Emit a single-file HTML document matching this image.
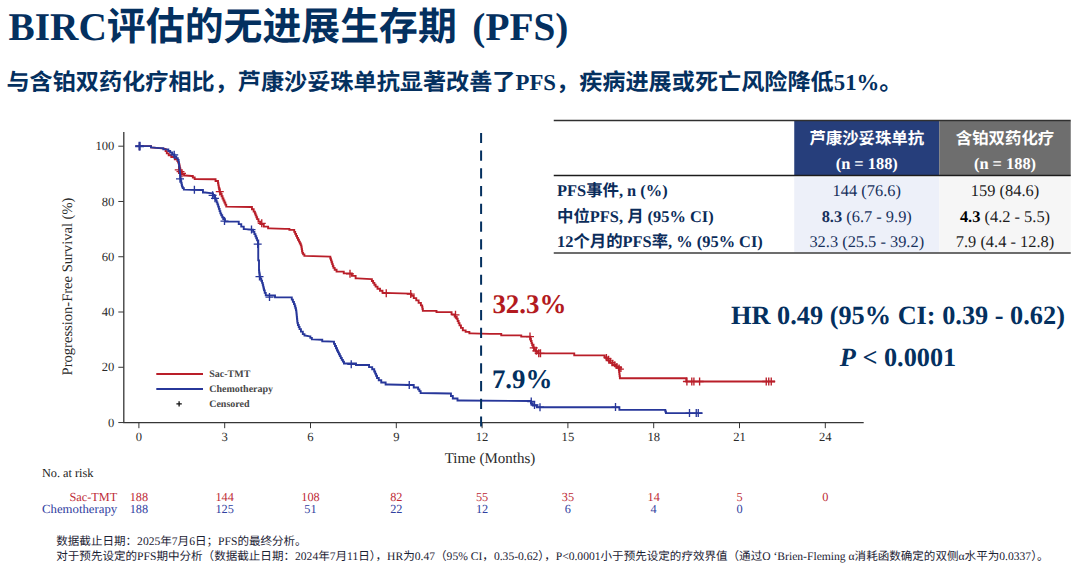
<!DOCTYPE html>
<html lang="zh"><head><meta charset="utf-8"><title>BIRC PFS</title><style>
html,body{margin:0;padding:0;background:#fff}
body{width:1080px;height:567px;position:relative;overflow:hidden;text-rendering:geometricPrecision;font-family:"Liberation Serif",serif;color:#04305f}
.abs{position:absolute;white-space:nowrap;margin:0}
span.cjk{font-family:"Liberation Serif","Noto Sans CJK SC",sans-serif}
.title{font-size:39.3px;font-weight:bold;line-height:46px;color:#04305f}
.sub{font-size:22.8px;font-weight:bold;line-height:30px;color:#04305f}
.th{font-size:16.4px;font-weight:bold;color:#fff;text-align:center;line-height:22px}
.th2{font-size:16.4px;font-weight:bold;color:#fff;text-align:center;line-height:20px}
.rl{font-size:16.4px;font-weight:bold;color:#0b2c5a;line-height:18px}
.rv{font-size:16.4px;text-align:center;line-height:18px}
.big{font-size:26.9px;font-weight:bold;line-height:30px}
.hr{font-size:26.3px;font-weight:bold;line-height:30px;text-align:center;color:#04305f}
.fn{font-size:11.6px;line-height:14px;color:#1b2233}
.fn span.cjk{font-size:11.55px}
text{font-family:"Liberation Serif",serif;text-rendering:geometricPrecision}
.t12{font-size:12.6px;fill:#2a2a2a}
.t14{font-size:15px;fill:#2a2a2a}
.lg{font-size:10px;font-weight:bold;fill:#474747}
</style></head><body>
<svg class="abs" style="left:0;top:0" width="1080" height="567" viewBox="0 0 1080 567"><rect x="794.25" y="121" width="145" height="54.5" fill="#263e7b"/><rect x="939.25" y="121" width="131.5" height="54.5" fill="#6e6e6e"/><rect x="794.25" y="177.2" width="145" height="75.3" fill="#edf0f9"/><rect x="939.25" y="177.2" width="131.5" height="75.3" fill="#f6f6f6"/><path d="M553.75 120.6H1070.75" stroke="#303030" stroke-width="1.5"/><path d="M553.75 175.5H1070.75" stroke="#1c1c1c" stroke-width="1.4"/><path d="M553.75 252.9H1070.75" stroke="#3c3c3c" stroke-width="1.5"/><path d="M123.8 132V422.55H863.7" fill="none" stroke="#363636" stroke-width="1.3"/><path d="M118.3 422.55H123.8M118.3 367.28H123.8M118.3 312.01H123.8M118.3 256.74H123.8M118.3 201.47H123.8M118.3 146.2H123.8M138.9 422.55V428.2M224.7 422.55V428.2M310.5 422.55V428.2M396.3 422.55V428.2M482.1 422.55V428.2M567.9 422.55V428.2M653.7 422.55V428.2M739.5 422.55V428.2M825.3 422.55V428.2" fill="none" stroke="#363636" stroke-width="1"/><text x="114.3" y="426.65" text-anchor="end" class="t12">0</text><text x="114.3" y="371.38" text-anchor="end" class="t12">20</text><text x="114.3" y="316.11" text-anchor="end" class="t12">40</text><text x="114.3" y="260.84" text-anchor="end" class="t12">60</text><text x="114.3" y="205.57" text-anchor="end" class="t12">80</text><text x="114.3" y="150.3" text-anchor="end" class="t12">100</text><text x="138.9" y="441.2" text-anchor="middle" class="t12">0</text><text x="224.7" y="441.2" text-anchor="middle" class="t12">3</text><text x="310.5" y="441.2" text-anchor="middle" class="t12">6</text><text x="396.3" y="441.2" text-anchor="middle" class="t12">9</text><text x="482.1" y="441.2" text-anchor="middle" class="t12">12</text><text x="567.9" y="441.2" text-anchor="middle" class="t12">15</text><text x="653.7" y="441.2" text-anchor="middle" class="t12">18</text><text x="739.5" y="441.2" text-anchor="middle" class="t12">21</text><text x="825.3" y="441.2" text-anchor="middle" class="t12">24</text><text x="490" y="462.5" text-anchor="middle" class="t14">Time (Months)</text><text transform="translate(72.3 286.5) rotate(-90)" text-anchor="middle" class="t14" style="font-size:14.56px">Progression-Free Survival (%)</text><path d="M139.5 146.15L151 146.15L151 147.35L159.3 148.15L165 148.85H165.60V151.10H166.20H166.80V153.35H167.40H168.70V155.20H170.00H171.30V157.05H172.60H174.80V159.25H177.00H177.38V160.95H177.77H178.15V162.65H178.53H178.92V164.35H179.30H179.48V166.40H179.65H179.82V168.45H180.00H180.18V170.50H180.35H180.52V172.55H180.70H181.82V174.05H182.95H184.07V175.55H185.20L191.9 175.95H192.82V177.45H193.75H194.68V178.95H195.60L213.3 179.25H215.55V181.05H217.80H217.99V183.20H218.18H218.36V185.35H218.55H218.74V187.50H218.93H219.11V189.65H219.30H219.76V191.85H220.23H220.69V194.05H221.15H221.61V196.25H222.07H222.54V198.45H223.00H223.46V200.50H223.93H224.39V202.55H224.85H225.31V204.60H225.77H226.24V206.65H226.70L251.1 206.95H251.95V209.27H252.80H253.65V211.60H254.50H254.88V213.47H255.25H255.62V215.35H256.00H256.38V217.22H256.75H257.12V219.10H257.50H258.44V221.60H259.38H260.31V224.10H261.25H263.75V226.60H266.25H268.12V228.35H270.00L285 228.85H289.38V229.85H293.75H294.22V231.85H294.69H295.16V233.85H295.62H296.09V235.85H296.56H297.03V237.85H297.50H297.97V239.72H298.44H298.91V241.60H299.38H299.84V243.47H300.31H300.78V245.35H301.25H301.41V247.22H301.56H301.72V249.10H301.88H302.03V250.97H302.19H302.34V252.85H302.50H303.12V254.35H303.75H304.38V255.85H305.00L330 256.6H330.31V258.48H330.62H330.94V260.35H331.25H331.56V262.23H331.88H332.19V264.10H332.50H332.81V265.98H333.12H333.44V267.85H333.75H334.69V269.73H335.62H336.56V271.60H337.50H343.75V273.35H350.00H351.88V275.85H353.75H355.62V278.35H357.50L371.25 279.1H371.88V280.98H372.50H373.12V282.85H373.75H374.38V284.73H375.00H375.62V286.60H376.25H377.50V288.68H378.75H380.00V290.77H381.25H382.50V292.85H383.75L410 293.6H411.25V295.85H412.50H413.75V298.10H415.00H416.25V300.35H417.50H418.62V302.85H419.75H420.88V305.35H422.00H422.17V307.18H422.33H422.50V309.02H422.67H422.83V310.85H423.00H436.50V312.10H450.00H451.56V314.35H453.12H454.69V316.60H456.25H456.72V318.79H457.19H457.66V320.98H458.12H458.59V323.16H459.06H459.53V325.35H460.00H460.94V327.85H461.88H462.81V330.35H463.75H465.62V331.85H467.50H469.38V333.35H471.25L490 333.85H501.25V335.35H512.50H521.25V336.60H530.00H530.31V338.79H530.62H530.94V340.98H531.25H531.56V343.16H531.88H532.19V345.35H532.50H533.12V347.43H533.75H534.38V349.52H535.00H535.62V351.60H536.25H538.12V353.35H540.00L573.75 353.35H574.25V355.35L603.75 355.35H604.69V357.85H605.62H606.56V360.35H607.50H609.06V362.85H610.62H612.19V365.35H613.75H616.25V367.85H618.75H618.88V369.93H619.00H619.12V372.01H619.25H619.38V374.09H619.50H619.62V376.17H619.75H619.88V378.25H620.00L686.25 378.25L686.25 381.45L775 381.45" fill="none" stroke="#b91e29" stroke-width="1.9" stroke-linejoin="miter"/><path d="M135.5 146.15h8M139.5 142.15v8M174.75 169.85h8M178.75 165.85v8M176.5 171.6h8M180.5 167.6v8M178 173.35h8M182 169.35v8M215.8 191.6h8M219.8 187.6v8M257.75 223.35h8M261.75 219.35v8M346 273.85h8M350 269.85v8M382.25 293.35h8M386.25 289.35v8M406.75 294.1h8M410.75 290.1v8M451.5 314.85h8M455.5 310.85v8M526 336.6h8M530 332.6v8M529.75 347.85h8M533.75 343.85v8M532.25 350.85h8M536.25 346.85v8M534.75 353.35h8M538.75 349.35v8M536.5 353.35h8M540.5 349.35v8M682.9 381.45h8M686.9 377.45v8M687.8 381.45h8M691.8 377.45v8M689.9 381.45h8M693.9 377.45v8M695.6 381.45h8M699.6 377.45v8M762.25 381.45h8M766.25 377.45v8M764.75 381.45h8M768.75 377.45v8M767.25 381.45h8M771.25 377.45v8M603.4 357.05h6M606.4 354.05v6M605.5 358.75h6M608.5 355.75v6M607.6 360.85h6M610.6 357.85v6M609.7 362.65h6M612.7 359.65v6M611.8 364.35h6M614.8 361.35v6M613.9 366.05h6M616.9 363.05v6M616.1 367.45h6M619.1 364.45v6M617.9 369.05h6M620.9 366.05v6" fill="none" stroke="#b91e29" stroke-width="1.35"/><path d="M139.5 146.15L151 146.15L151 147.35L159.3 148.15H163.35V149.35H167.40H168.32V150.95H169.25H170.18V152.55H171.10H172.20V154.45H173.30H174.40V156.35H175.50H176.25V158.15H177.00H177.75V159.95H178.50H178.62V162.03H178.74H178.86V164.11H178.98H179.10V166.19H179.22H179.34V168.27H179.46H179.58V170.35H179.70H179.82V172.57H179.95H180.07V174.80H180.20H180.32V177.03H180.45H180.57V179.25H180.70H180.89V181.10H181.07H181.26V182.95H181.45H181.64V184.80H181.82H182.01V186.65H182.20H182.75V188.15H183.30H183.85V189.65H184.40L200.7 190.05H202.95V192.55H205.20L212.6 193.35H213.08V195.05H213.57H214.05V196.75H214.53H215.02V198.45H215.50H215.88V200.42H216.27H216.65V202.38H217.03H217.42V204.35H217.80H218.16V206.60H218.53H218.89V208.85H219.25H219.61V211.10H219.97H220.34V213.35H220.70H221.21V215.27H221.72H222.22V217.18H222.73H223.24V219.10H223.75H225.00V221.60H226.25L237.5 221.6H238.75V224.10H240.00H241.25V226.60H242.50H243.75V229.10H245.00L252.5 229.6H253.12V231.85H253.75H254.38V234.10H255.00H255.42V236.18H255.83H256.25V238.27H256.67H257.08V240.35H257.50H258.25V260.35H259V270.35H259.17V272.43H259.33H259.50V274.52H259.67H259.83V276.60H260.00H260.42V278.68H260.83H261.25V280.77H261.67H262.08V282.85H262.50H262.72V284.73H262.94H263.16V286.60H263.38H263.59V288.48H263.81H264.03V290.35H264.25H264.75V292.85H265.25H265.75V295.35H266.25L274.6 295.55H275V297.35L291.25 297.35H291.79V299.60H292.33H292.88V301.85H293.42H293.96V304.10H294.50H294.79V306.18H295.08H295.38V308.27H295.67H295.96V310.35H296.25H296.35V312.43H296.46H296.56V314.52H296.67H296.77V316.60H296.88H296.98V318.68H297.08H297.19V320.77H297.29H297.40V322.85H297.50H297.92V324.93H298.33H298.75V327.02H299.17H299.58V329.10H300.00H300.94V331.60H301.88H302.81V334.10H303.75H304.48V335.55H305.20L309.6 336.4H310.35V337.90H311.10H311.85V339.40H312.60L321.5 339.7H322.25V341.30H323.00L333.5 341.6H334.00V343.83H334.50H335.00V346.05H335.50H336.00V348.27H336.50H337.00V350.50H337.50H337.97V352.38H338.44H338.91V354.25H339.38H339.84V356.12H340.31H340.78V358.00H341.25H341.79V359.83H342.33H342.88V361.67H343.42H343.96V363.50H344.50H356.00V365.00H367.50H369.06V367.12H370.62H372.19V369.25H373.75H374.22V371.44H374.69H375.16V373.62H375.62H376.09V375.81H376.56H377.03V378.00H377.50H378.75V380.25H380.00H381.25V382.50H382.50H385.62V384.50H388.75L410 385H413.75V387.50H417.50H418.12V389.33H418.75H419.38V391.17H420.00H420.62V393.00H421.25L450 393.5H450.94V396.00H451.88H452.81V398.50H453.75H457.50V400.50H461.25L530 401H530.94V403.25H531.88H532.81V405.50H533.75H536.88V407.25H540.00L618.75 407.1H619.38V409.85H620.00L665 409.85H665.31V411.48H665.62H665.94V413.10H666.25L702.5 413.1" fill="none" stroke="#27379a" stroke-width="1.9" stroke-linejoin="miter"/><path d="M135.5 146.15h8M139.5 142.15v8M170.2 154.85h8M174.2 150.85v8M176 178.85h8M180 174.85v8M190.4 189.65h8M194.4 185.65v8M208.6 195.35h8M212.6 191.35v8M211 198.35h8M215 194.35v8M220.5 221.1h8M224.5 217.1v8M247.5 229.6h8M251.5 225.6v8M253.7 244.1h8M257.7 240.1v8M255.5 276.6h8M259.5 272.6v8M265.5 297.1h8M269.5 293.1v8M347.25 364.25h8M351.25 360.25v8M405.25 385h8M409.25 381v8M527.25 401.5h8M531.25 397.5v8M530.5 405h8M534.5 401v8M536 407.25h8M540 403.25v8M611.5 407.1h8M615.5 403.1v8M685.5 413.1h8M689.5 409.1v8M692.25 413.1h8M696.25 409.1v8M694.25 413.1h8M698.25 409.1v8" fill="none" stroke="#27379a" stroke-width="1.35"/><path d="M135.2 146.2h8.8M139.6 141.8v8.8" fill="none" stroke="#27379a" stroke-width="2.1"/><path d="M481.1 132.9V428.2" fill="none" stroke="#04305f" stroke-width="2" stroke-dasharray="10.2 7.52"/><path d="M156.3 374H203" stroke="#b91e29" stroke-width="2"/><path d="M156.3 389.1H203" stroke="#27379a" stroke-width="2"/><path d="M176.4 403.9h5.4M179.1 401.2v5.4" stroke="#111" stroke-width="1.3"/><text x="209.2" y="377.2" class="lg">Sac-TMT</text><text x="209.2" y="392" class="lg">Chemotherapy</text><text x="209.2" y="406.9" class="lg">Censored</text><text x="41.9" y="477.2" class="t12" style="fill:#222;font-size:12.3px">No. at risk</text><text x="117.2" y="500.5" text-anchor="end" class="t12" style="fill:#bd2a35;font-size:12.3px">Sac-TMT</text><text x="117.2" y="513.3" text-anchor="end" textLength="75.2" lengthAdjust="spacingAndGlyphs" class="t12" style="fill:#3040a0;font-size:12.3px">Chemotherapy</text><text x="138.9" y="500.5" text-anchor="middle" class="t12" style="fill:#bd2a35;font-size:12.3px">188</text><text x="224.7" y="500.5" text-anchor="middle" class="t12" style="fill:#bd2a35;font-size:12.3px">144</text><text x="310.5" y="500.5" text-anchor="middle" class="t12" style="fill:#bd2a35;font-size:12.3px">108</text><text x="396.3" y="500.5" text-anchor="middle" class="t12" style="fill:#bd2a35;font-size:12.3px">82</text><text x="482.1" y="500.5" text-anchor="middle" class="t12" style="fill:#bd2a35;font-size:12.3px">55</text><text x="567.9" y="500.5" text-anchor="middle" class="t12" style="fill:#bd2a35;font-size:12.3px">35</text><text x="653.7" y="500.5" text-anchor="middle" class="t12" style="fill:#bd2a35;font-size:12.3px">14</text><text x="739.5" y="500.5" text-anchor="middle" class="t12" style="fill:#bd2a35;font-size:12.3px">5</text><text x="825.3" y="500.5" text-anchor="middle" class="t12" style="fill:#bd2a35;font-size:12.3px">0</text><text x="138.9" y="513.3" text-anchor="middle" class="t12" style="fill:#3040a0;font-size:12.3px">188</text><text x="224.7" y="513.3" text-anchor="middle" class="t12" style="fill:#3040a0;font-size:12.3px">125</text><text x="310.5" y="513.3" text-anchor="middle" class="t12" style="fill:#3040a0;font-size:12.3px">51</text><text x="396.3" y="513.3" text-anchor="middle" class="t12" style="fill:#3040a0;font-size:12.3px">22</text><text x="482.1" y="513.3" text-anchor="middle" class="t12" style="fill:#3040a0;font-size:12.3px">12</text><text x="567.9" y="513.3" text-anchor="middle" class="t12" style="fill:#3040a0;font-size:12.3px">6</text><text x="653.7" y="513.3" text-anchor="middle" class="t12" style="fill:#3040a0;font-size:12.3px">4</text><text x="739.5" y="513.3" text-anchor="middle" class="t12" style="fill:#3040a0;font-size:12.3px">0</text></svg>
<div class="abs title" style="left:8.6px;top:3.7px">BIRC<span class="cjk" style="font-size:38.9px">评估的无进展生存期</span><span style="margin-left:5.6px"> (PFS)</span></div>
<div class="abs sub" style="left:6.4px;top:68px"><span class="cjk" style="font-size:23.15px">与含铂双药化疗相比，芦康沙妥珠单抗显著改善了</span>PFS<span class="cjk" style="font-size:23.15px">，疾病进展或死亡风险降低</span>51%<span class="cjk" style="font-size:23.15px">。</span></div>
<div class="abs th" style="left:794.25px;width:145px;top:128px"><span class="cjk">芦康沙妥珠单抗</span></div>
<div class="abs th2" style="left:794.25px;width:145px;top:154.1px">(n = 188)</div>
<div class="abs th" style="left:939.25px;width:131.5px;top:128px"><span class="cjk">含铂双药化疗</span></div>
<div class="abs th2" style="left:939.25px;width:131.5px;top:154.1px">(n = 188)</div>
<div class="abs rl" style="left:557px;top:182px">PFS<span class="cjk">事件</span>, n (%)</div>
<div class="abs rv" style="left:794.25px;width:145px;top:182px;color:#17305c">144 (76.6)</div>
<div class="abs rv" style="left:939.25px;width:131.5px;top:182px;color:#1c1c1c">159 (84.6)</div>
<div class="abs rl" style="left:557px;top:207.5px"><span class="cjk">中位</span>PFS, <span class="cjk">月</span> (95% CI)</div>
<div class="abs rv" style="left:794.25px;width:145px;top:207.5px;color:#17305c"><b>8.3</b> (6.7 - 9.9)</div>
<div class="abs rv" style="left:939.25px;width:131.5px;top:207.5px;color:#1c1c1c"><b style="color:#000">4.3</b> (4.2 - 5.5)</div>
<div class="abs rl" style="left:557px;top:233.1px">12<span class="cjk">个月的</span>PFS<span class="cjk">率</span>, % (95% CI)</div>
<div class="abs rv" style="left:794.25px;width:145px;top:233.1px;color:#17305c">32.3 (25.5 - 39.2)</div>
<div class="abs rv" style="left:939.25px;width:131.5px;top:233.1px;color:#1c1c1c">7.9 (4.4 - 12.8)</div>
<div class="abs big" style="left:492.4px;top:288.6px;color:#b31a20">32.3%</div>
<div class="abs big" style="left:491.9px;top:363.6px;color:#04305f">7.9%</div>
<div class="abs hr" style="left:698px;width:400px;top:301px">HR 0.49 (95% CI: 0.39 - 0.62)</div>
<div class="abs hr" style="left:698px;width:400px;top:342.7px"><i>P</i> &lt; 0.0001</div>
<div class="abs fn" style="left:56.25px;top:534.5px"><span class="cjk">数据截止日期：</span>2025<span class="cjk">年</span>7<span class="cjk">月</span>6<span class="cjk">日；</span>PFS<span class="cjk">的最终分析。</span></div>
<div class="abs fn" style="left:56.25px;top:549.5px"><span class="cjk">对于预先设定的</span>PFS<span class="cjk">期中分析（数据截止日期：</span>2024<span class="cjk">年</span>7<span class="cjk">月</span>11<span class="cjk">日），</span>HR<span class="cjk">为</span>0.47<span class="cjk">（</span>95% CI<span class="cjk">，</span>0.35-0.62<span class="cjk">），</span>P&lt;0.0001<span class="cjk">小于预先设定的疗效界值（通过</span>O ‘Brien-Fleming α<span class="cjk">消耗函数确定的双侧</span>α<span class="cjk">水平为</span>0.0337<span class="cjk">）。</span></div>
</body></html>
